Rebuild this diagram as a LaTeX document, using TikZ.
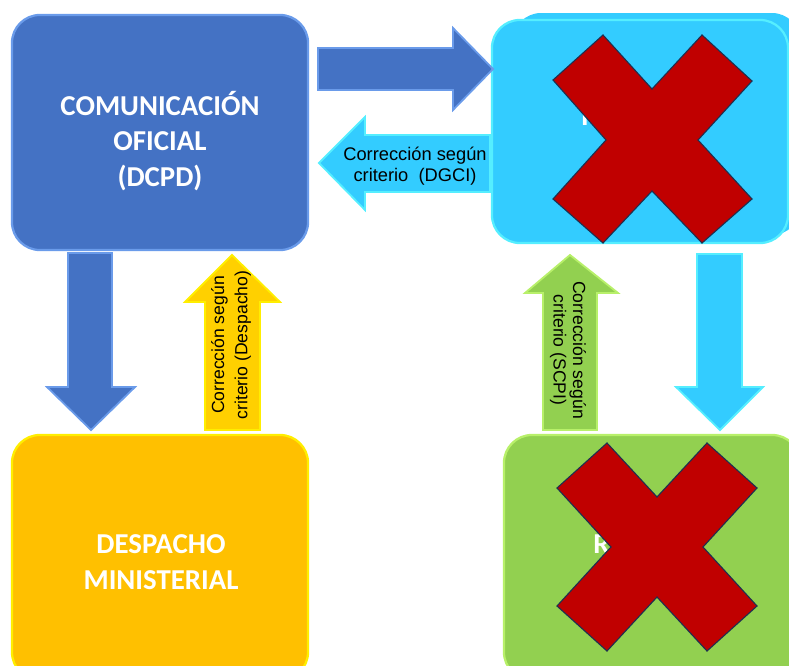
\documentclass[tikz,border=0pt]{standalone}
\usepackage{fontspec}
\setmainfont{Liberation Sans}
\newfontfamily\boxfont{Carlito}
\usepackage{xcolor}
\usetikzlibrary{positioning}

\definecolor{ofiblue}{HTML}{4472C4}
\definecolor{ofiedge}{HTML}{6A9BEA}
\definecolor{dgcicyan}{HTML}{33CCFF}
\definecolor{dgciedge}{HTML}{55EEFF}
\definecolor{despyellow}{HTML}{FFC000}
\definecolor{despedge}{HTML}{FFEE00}
\definecolor{despfill}{HTML}{FFD000}
\definecolor{scpigreen}{HTML}{92D050}
\definecolor{scpiedge}{HTML}{B8F06A}
\definecolor{crossred}{HTML}{C00000}
\definecolor{crossedge}{HTML}{1F3050}

\begin{document}
\begin{tikzpicture}[x=0.025cm, y=-0.025cm,
  box/.style={rounded corners=0.7cm, line width=1.6pt, minimum width=7.4cm},
  boxtxt/.style={align=center, text=white, inner sep=0pt,
    font=\boxfont\bfseries\fontsize{20.5}{25.5}\selectfont},
  blockarrow/.style={line width=1.3pt, line join=miter},
  lbl/.style={align=center, inner sep=0pt, font=\fontsize{13}{15}\selectfont},
  cross/.style={fill=crossred, draw=crossedge, line width=0.8pt, line join=miter}]

\useasboundingbox (0,0) rectangle (789,665);
\clip (0,0) rectangle (789,665);

% cajas
\node[box, fill=ofiblue, draw=ofiedge, minimum height=5.875cm] (ofi) at (160,132.5) {};
\fill[dgcicyan, rounded corners=0.7cm] (513,13) rectangle (800,235);
\node[box, fill=dgcicyan, draw=dgciedge, minimum height=5.575cm] (dgci) at (640,131.5) {};
\node[box, fill=despyellow, draw=despedge, minimum height=6.125cm] (desp) at (160,557.5) {};
\node[box, fill=scpigreen, draw=scpiedge, minimum height=6.125cm] (scpi) at (652,557.5) {};

\node[boxtxt] (ofitxt) at (160,141) {COMUNICACIÓN\\OFICIAL\\(DCPD)};
\node[boxtxt] (desptxt) at (161,562) {DESPACHO\\MINISTERIAL};

% texto tapado
\node[boxtxt, anchor=base west] (dgcitxt) at (581,125) {R};
\node[boxtxt, anchor=base west] (scpitxt) at (593,553) {R};

% flechas
\draw[blockarrow, fill=ofiblue, draw=ofiedge] (318,48) -- (453,48) -- (453,28) -- (493,69) -- (453,110) -- (453,90) -- (318,90) -- cycle;
\draw[blockarrow, fill=dgcicyan, draw=dgciedge] (490,135) -- (365,135) -- (365,117) -- (319,163) -- (365,210) -- (365,192) -- (490,192) -- cycle;
\draw[blockarrow, fill=ofiblue, draw=ofiedge] (68,253) -- (112,253) -- (112,387) -- (135,387) -- (91,430) -- (47,387) -- (68,387) -- cycle;
\draw[blockarrow, fill=dgcicyan, draw=dgciedge] (697,254) -- (742,254) -- (742,387) -- (763,387) -- (720,430) -- (676,387) -- (697,387) -- cycle;
\draw[blockarrow, fill=despfill, draw=despedge] (205,430) -- (205,302) -- (185,302) -- (232,255) -- (280,302) -- (260,302) -- (260,430) -- cycle;
\draw[blockarrow, fill=scpigreen, draw=scpiedge] (543,430) -- (543,293) -- (525,293) -- (570,255) -- (618,293) -- (597,293) -- (597,430) -- cycle;

\node[lbl] (lbldgci) at (415,166) {Corrección según\\criterio~~(DGCI)};
\node[lbl, rotate=90, font=\fontsize{12.5}{16.5}\selectfont] (lbldesp) at (231,345) {Corrección según\\criterio (Despacho)};
\node[lbl, rotate=-90, font=\fontsize{12.5}{14}\selectfont] (lblscpi) at (568,350) {Corrección según\\criterio (SCPI)};

% cruces
\draw[cross] (553,80) -- (603,35) -- (652,89) -- (702,35) -- (752,81) -- (698,140) -- (752,199) -- (702,243) -- (652,191) -- (603,243) -- (553,199) -- (606,140) -- cycle;
\draw[cross] (557,488) -- (607,443) -- (657,497) -- (707,443) -- (757,488) -- (703,547) -- (757,606) -- (707,651) -- (657,597) -- (607,651) -- (557,606) -- (611,547) -- cycle;

\end{tikzpicture}
\end{document}
